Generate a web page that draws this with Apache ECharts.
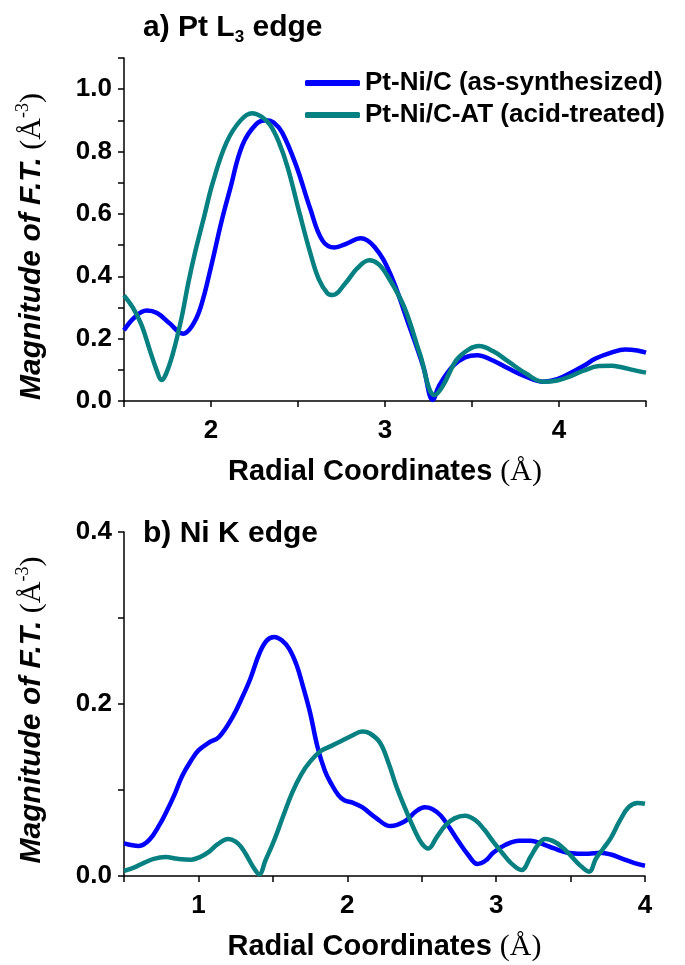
<!DOCTYPE html>
<html>
<head>
<meta charset="utf-8">
<script src="https://cdn.jsdelivr.net/npm/echarts@6/dist/echarts.min.js"></script>
<style>
  html, body { margin: 0; padding: 0; background: #fff; }
  #main { width: 685px; height: 965px; }
</style>
</head>
<body>
<div id="main"></div>
<script>
const SANS = '"Liberation Sans", Arial, sans-serif';
const SERIF = '"Liberation Serif", "Times New Roman", serif';
const BLUE = '#0000ff';
const TEAL = '#068080';

const seriesNames = ['Pt-Ni/C (as-synthesized)', 'Pt-Ni/C-AT (acid-treated)'];

// a) Pt L3 edge  [R (Å), magnitude]
const ptBlue = [
  [1.50,0.227],[1.56,0.268],[1.63,0.290],[1.69,0.282],[1.76,0.250],[1.84,0.216],[1.89,0.240],
  [1.94,0.300],[2.00,0.430],[2.06,0.575],[2.11,0.680],[2.18,0.820],[2.26,0.888],[2.32,0.900],
  [2.36,0.893],[2.41,0.860],[2.49,0.754],[2.57,0.617],[2.64,0.515],[2.71,0.492],[2.78,0.505],
  [2.86,0.522],[2.94,0.494],[3.03,0.408],[3.13,0.255],[3.22,0.110],[3.275,0.003],[3.31,0.048],
  [3.39,0.112],[3.46,0.140],[3.53,0.147],[3.62,0.130],[3.71,0.104],[3.81,0.078],[3.91,0.062],
  [3.99,0.070],[4.06,0.088],[4.14,0.112],[4.21,0.136],[4.30,0.155],[4.38,0.165],[4.45,0.162],
  [4.50,0.155]
];
const ptTeal = [
  [1.50,0.339],[1.55,0.300],[1.60,0.245],[1.65,0.160],[1.69,0.095],[1.715,0.067],[1.74,0.085],
  [1.78,0.150],[1.83,0.265],[1.87,0.380],[1.91,0.480],[1.96,0.590],[2.01,0.700],[2.09,0.830],
  [2.17,0.900],[2.236,0.923],[2.29,0.912],[2.34,0.885],[2.39,0.830],[2.44,0.750],[2.51,0.600],
  [2.57,0.476],[2.62,0.390],[2.67,0.345],[2.70,0.340],[2.77,0.376],[2.84,0.425],[2.91,0.451],
  [2.96,0.440],[3.01,0.405],[3.11,0.302],[3.20,0.152],[3.285,0.019],[3.33,0.046],[3.41,0.131],
  [3.48,0.165],[3.54,0.176],[3.62,0.160],[3.71,0.126],[3.81,0.088],[3.91,0.062],[3.99,0.066],
  [4.06,0.078],[4.14,0.097],[4.23,0.112],[4.30,0.113],[4.36,0.108],[4.43,0.099],[4.50,0.091]
];

// b) Ni K edge
const niBlue = [
  [0.50,0.038],[0.60,0.035],[0.67,0.042],[0.74,0.060],[0.78,0.073],[0.84,0.095],[0.89,0.116],
  [0.95,0.134],[1.00,0.146],[1.07,0.155],[1.14,0.162],[1.23,0.185],[1.30,0.210],[1.35,0.230],
  [1.41,0.259],[1.46,0.274],[1.51,0.278],[1.56,0.274],[1.61,0.264],[1.66,0.245],[1.70,0.222],
  [1.75,0.190],[1.80,0.150],[1.85,0.122],[1.89,0.108],[1.94,0.094],[1.98,0.088],[2.04,0.085],
  [2.10,0.080],[2.19,0.068],[2.29,0.058],[2.39,0.064],[2.46,0.075],[2.52,0.080],[2.57,0.078],
  [2.63,0.070],[2.74,0.042],[2.81,0.025],[2.875,0.014],[2.93,0.018],[2.98,0.027],[3.06,0.036],
  [3.155,0.041],[3.23,0.041],[3.30,0.038],[3.39,0.032],[3.48,0.027],[3.55,0.026],[3.62,0.026],
  [3.70,0.027],[3.77,0.025],[3.85,0.020],[3.93,0.015],[4.00,0.012]
];
const niTeal = [
  [0.50,0.006],[0.57,0.010],[0.63,0.015],[0.70,0.020],[0.78,0.022],[0.86,0.020],[0.95,0.019],
  [1.01,0.022],[1.07,0.028],[1.13,0.037],[1.20,0.043],[1.25,0.040],[1.29,0.033],[1.33,0.022],
  [1.37,0.010],[1.408,0.002],[1.45,0.018],[1.51,0.042],[1.57,0.070],[1.63,0.097],[1.69,0.118],
  [1.75,0.133],[1.82,0.145],[1.89,0.151],[1.96,0.157],[2.03,0.163],[2.10,0.168],[2.15,0.166],
  [2.22,0.155],[2.28,0.130],[2.33,0.104],[2.39,0.078],[2.45,0.054],[2.50,0.038],[2.544,0.032],
  [2.60,0.045],[2.66,0.059],[2.72,0.067],[2.79,0.070],[2.86,0.065],[2.92,0.054],[2.98,0.040],
  [3.04,0.027],[3.10,0.015],[3.17,0.007],[3.23,0.022],[3.28,0.036],[3.33,0.043],[3.39,0.040],
  [3.44,0.034],[3.50,0.024],[3.56,0.013],[3.624,0.005],[3.67,0.020],[3.72,0.032],[3.77,0.044],
  [3.83,0.064],[3.89,0.080],[3.95,0.085],[4.00,0.084]
];

const chart = echarts.init(document.getElementById('main'));

const axisLine = { onZero: false, lineStyle: { color: '#000', width: 1.5 } };
const axisTick = { length: 6, lineStyle: { color: '#000', width: 1.5 } };
const tickFont = { color: '#000', fontFamily: SANS, fontWeight: 'bold', fontSize: 26 };

function xAxis(gridIndex, min, max) {
  return {
    type: 'value', gridIndex, min, max, interval: 0.5,
    axisLine, axisTick, splitLine: { show: false },
    axisLabel: Object.assign({ margin: 17, formatter: v => Number.isInteger(v) ? String(v) : '' }, tickFont),
    name: '{b|Radial Coordinates }{s|(Å)}',
    nameLocation: 'middle', nameGap: 56,
    nameTextStyle: {
      rich: {
        b: { fontFamily: SANS, fontWeight: 'bold', fontSize: 29, color: '#000' },
        s: { fontFamily: SERIF, fontSize: 30, color: '#000' }
      }
    }
  };
}

// shift: extra padding that moves the rotated name down along the axis
function yAxis(gridIndex, max, shift) {
  return {
    type: 'value', gridIndex, min: 0, max, interval: 0.1,
    axisLine, axisTick, splitLine: { show: false },
    axisLabel: Object.assign({
      margin: 12,
      formatter: v => { const k = Math.round(v * 10); return k % 2 === 0 ? (k / 10).toFixed(1) : ''; }
    }, tickFont),
    name: '{i|Magnitude of F.T.}{r| (Å}{sup|-3}{r|)}',
    nameLocation: 'middle', nameGap: 74,
    nameTextStyle: {
      padding: [0, shift, 0, 0],
      rich: {
        i: { fontFamily: SANS, fontWeight: 'bold', fontStyle: 'italic', fontSize: 30, color: '#000', lineHeight: 36 },
        r: { fontFamily: SERIF, fontSize: 30, color: '#000', lineHeight: 36 },
        sup: { fontFamily: SERIF, fontSize: 18, color: '#000', lineHeight: 18, verticalAlign: 'top' }
      }
    }
  };
}

function line(name, xi, data, color) {
  return {
    name, type: 'line', xAxisIndex: xi, yAxisIndex: xi, data,
    symbol: 'none', smooth: 0.4, color,
    lineStyle: { width: 4.5, color }
  };
}

const titleRich = {
  t: { fontFamily: SANS, fontWeight: 'bold', fontSize: 30, color: '#000', lineHeight: 36 },
  s: { fontFamily: SANS, fontWeight: 'bold', fontSize: 17, color: '#000', lineHeight: 17, verticalAlign: 'bottom' }
};

const option = {
  backgroundColor: '#fff',
  animation: false,
  title: [
    { text: '{t|a) Pt L}{s|3}{t| edge}', left: 143, top: 10, padding: 0, textStyle: { rich: titleRich } },
    { text: '{t|b) Ni K edge}', left: 143, top: 516, padding: 0, textStyle: { rich: titleRich } }
  ],
  legend: {
    data: seriesNames, orient: 'vertical', left: 300, top: 65,
    itemWidth: 55, itemHeight: 6, itemGap: 6, icon: 'roundRect',
    textStyle: { fontFamily: SANS, fontWeight: 'bold', fontSize: 26, color: '#000' }
  },
  grid: [
    { left: 124, right: 39, top: 58, height: 343 },
    { left: 124, right: 40, top: 532, height: 344 }
  ],
  xAxis: [xAxis(0, 1.5, 4.5), xAxis(1, 0.5, 4)],
  yAxis: [yAxis(0, 1.1, 34), yAxis(1, 0.4, 12)],
  series: [
    line(seriesNames[0], 0, ptBlue, BLUE),
    line(seriesNames[1], 0, ptTeal, TEAL),
    line(seriesNames[0], 1, niBlue, BLUE),
    line(seriesNames[1], 1, niTeal, TEAL)
  ]
};

chart.setOption(option);
window.addEventListener('resize', () => chart.resize());
</script>
</body>
</html>
